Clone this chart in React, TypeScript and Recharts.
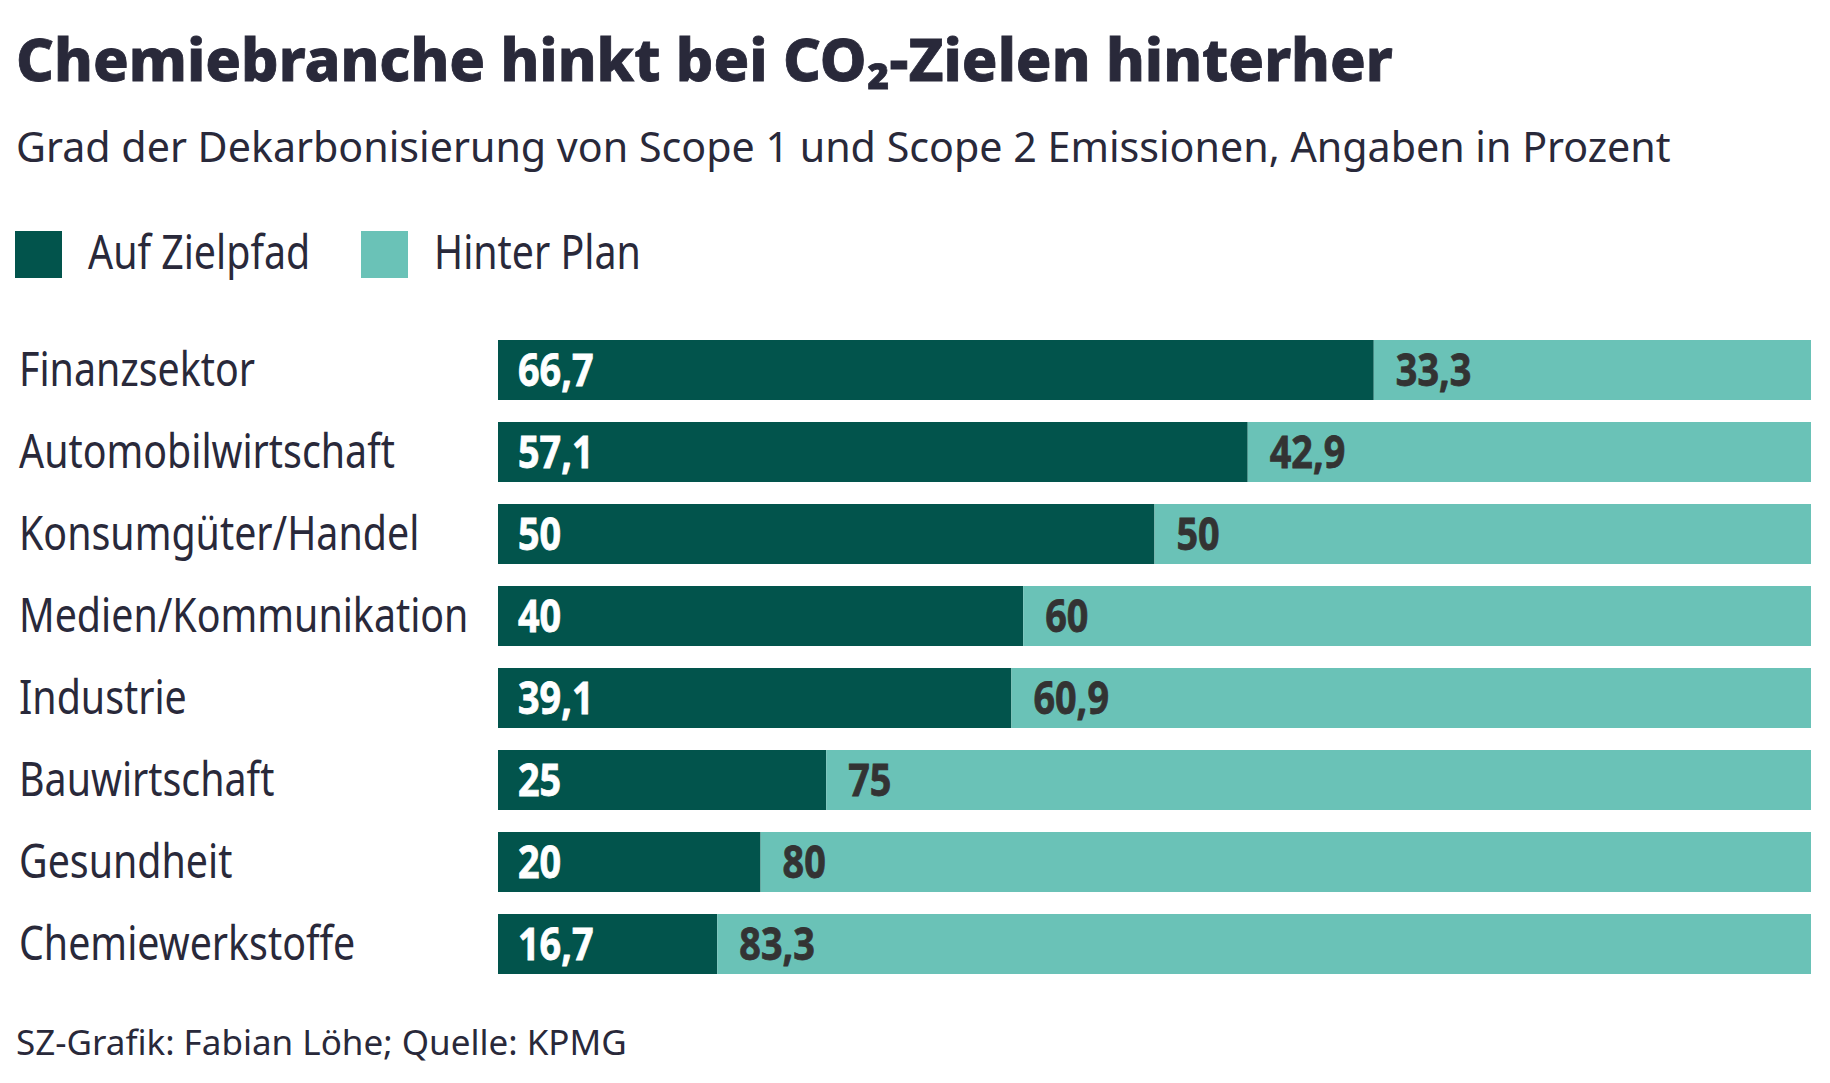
import React from 'react';
import { BarChart, Bar, XAxis, YAxis, LabelList } from 'recharts';

const categories = [
  'Finanzsektor',
  'Automobilwirtschaft',
  'Konsumgüter/Handel',
  'Medien/Kommunikation',
  'Industrie',
  'Bauwirtschaft',
  'Gesundheit',
  'Chemiewerkstoffe',
];
const aufZielpfad = [66.7, 57.1, 50, 40, 39.1, 25, 20, 16.7];
const hinterPlan = [33.3, 42.9, 50, 60, 60.9, 75, 80, 83.3];
const seriesNames = ['Auf Zielpfad', 'Hinter Plan'];
const titleText = 'Chemiebranche hinkt bei CO₂-Zielen hinterher';
const subtitleText = 'Grad der Dekarbonisierung von Scope 1 und Scope 2 Emissionen, Angaben in Prozent';
const sourceText = 'SZ-Grafik: Fabian Löhe; Quelle: KPMG';

const DARK = '#02544C';
const LIGHT = '#6AC2B7';
const TEXT = '#29293A';
const HEAD_FONT = "'Noto Sans', sans-serif";
const LABEL_FONT = "'Noto Sans', sans-serif";
const NARROW = 0.82;
const NARROW_BOLD = 0.84;

const data = categories.map((c, i) => ({ name: c, auf: aufZielpfad[i], hinter: hinterPlan[i] }));
const fmt = (v: number) => String(v).replace('.', ',');

const NarrowText = ({ x, y, children, scale = NARROW, ...rest }: any) => (
  <text transform={`translate(${x},${y}) scale(${scale},1)`} x={0} y={0} textAnchor="start" {...rest}>
    {children}
  </text>
);

const CategoryTick = (props: any) => {
  const { y, payload } = props;
  return (
    <NarrowText x={19} y={y + 16} fill={TEXT} fontFamily={LABEL_FONT} fontSize={48}>
      {payload.value}
    </NarrowText>
  );
};

const makeLabel = (color: string, offset: number) => (props: any) => {
  const { x, y, height, value } = props;
  return (
    <NarrowText
      x={x + offset}
      y={y + height / 2 + 16}
      scale={NARROW_BOLD}
      fill={color}
      stroke={color}
      strokeWidth={0.8}
      fontFamily={LABEL_FONT}
      fontWeight={700}
      fontSize={45}
    >
      {fmt(value)}
    </NarrowText>
  );
};

export default function App() {
  const colors = [DARK, LIGHT];
  const legendX = [15, 361];
  return (
    <div style={{ position: 'relative', width: 1830, height: 1083, background: '#fff' }}>
      <style>{'body{margin:0}'}</style>
      <svg width={1830} height={1083} style={{ position: 'absolute', left: 0, top: 0 }}>
        <text
          x={16}
          y={81}
          fill={TEXT}
          stroke={TEXT}
          strokeWidth={0.8}
          fontFamily={HEAD_FONT}
          fontWeight={800}
          fontSize={59}
        >
          {titleText}
        </text>
        <text x={16} y={162} fill={TEXT} fontFamily={HEAD_FONT} fontWeight={400} fontSize={41.2}>
          {subtitleText}
        </text>
        {seriesNames.map((n, i) => (
          <g key={n}>
            <rect x={legendX[i]} y={231} width={47} height={47} fill={colors[i]} />
            <NarrowText x={legendX[i] + 73} y={269} fill={TEXT} fontFamily={LABEL_FONT} fontSize={48}>
              {n}
            </NarrowText>
          </g>
        ))}
        <text x={16} y={1055} fill={TEXT} fontFamily={HEAD_FONT} fontWeight={400} fontSize={35}>
          {sourceText}
        </text>
      </svg>
      <div style={{ position: 'absolute', left: 0, top: 0 }}>
        <BarChart
          width={1830}
          height={1083}
          data={data}
          layout="vertical"
          margin={{ top: 329, right: 19, bottom: 98, left: 0 }}
          barSize={60}
        >
          <XAxis type="number" domain={[0, 100]} hide />
          <YAxis
            type="category"
            dataKey="name"
            width={498}
            axisLine={false}
            tickLine={false}
            interval={0}
            tick={<CategoryTick />}
          />
          <Bar dataKey="auf" name={seriesNames[0]} stackId="a" fill={DARK} isAnimationActive={false}>
            <LabelList dataKey="auf" content={makeLabel('#FFFFFF', 20)} />
          </Bar>
          <Bar dataKey="hinter" name={seriesNames[1]} stackId="a" fill={LIGHT} isAnimationActive={false}>
            <LabelList dataKey="hinter" content={makeLabel('#333333', 22)} />
          </Bar>
        </BarChart>
      </div>
    </div>
  );
}
